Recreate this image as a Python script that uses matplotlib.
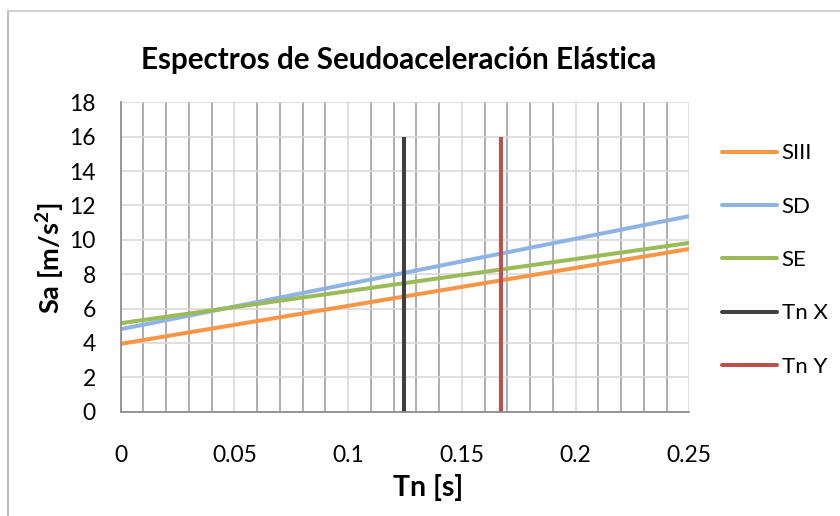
import matplotlib.pyplot as plt
from matplotlib.ticker import MultipleLocator
from matplotlib.lines import Line2D

plt.rcParams['font.family'] = ['Lato', 'DejaVu Sans']
plt.rcParams['mathtext.fontset'] = 'custom'
plt.rcParams['mathtext.rm'] = 'Lato'
plt.rcParams['mathtext.bf'] = 'Lato:bold'

# periodos (s) y pseudoaceleraciones (m/s2)
tn = [0.0, 0.25]
sa_siii = [3.95, 9.47]
sa_sd = [4.8, 11.38]
sa_se = [5.15, 9.82]

tn_x = 0.1245
tn_y = 0.1672
vline_sa = [0, 16]

labels = ["SIII", "SD", "SE", "Tn X", "Tn Y"]
colors = ["#F79646", "#8EB4E3", "#9BBB59", "#404040", "#C0504D"]

fig = plt.figure(figsize=(8.4, 5.16), dpi=100)
ax = fig.add_axes([0.1437, 0.2021, 0.6769, 0.5996])

ax.plot(tn, sa_siii, color=colors[0], lw=2.9, label=labels[0], solid_capstyle='butt')
ax.plot(tn, sa_sd, color=colors[1], lw=2.9, label=labels[1], solid_capstyle='butt')
ax.plot(tn, sa_se, color=colors[2], lw=2.9, label=labels[2], solid_capstyle='butt')
ax.plot([tn_x, tn_x], vline_sa, color=colors[3], lw=2.9, label=labels[3], solid_capstyle='butt', clip_on=False)
ax.plot([tn_y, tn_y], vline_sa, color=colors[4], lw=2.9, label=labels[4], solid_capstyle='butt', clip_on=False)

ax.set_xlim(0, 0.25)
ax.set_ylim(0, 18)
ax.xaxis.set_major_locator(MultipleLocator(0.05))
ax.xaxis.set_minor_locator(MultipleLocator(0.01))
ax.yaxis.set_major_locator(MultipleLocator(2))
ax.xaxis.set_major_formatter(plt.FuncFormatter(lambda v, p: f"{v:g}"))

ax.grid(which='major', color='#D9D9D9', lw=1.2)
ax.grid(which='minor', axis='x', color='#A0A0A0', lw=1.2)
ax.set_axisbelow(True)

for s in ['top', 'right']:
    ax.spines[s].set_visible(False)
for s in ['left', 'bottom']:
    ax.spines[s].set_color('#868686')
    ax.spines[s].set_linewidth(1.2)

ax.tick_params(which='both', length=0)
ax.tick_params(axis='y', labelsize=16.5, pad=18)
ax.tick_params(axis='x', labelsize=16.5, pad=24)

fig.text(0.475, 0.884, "Espectros de Seudoaceleración Elástica",
         fontsize=21.3, fontweight='bold', ha='center', va='center')
fig.text(0.51, 0.056, "Tn [s]", fontsize=20.5, fontweight='bold', ha='center', va='center')
fig.text(0.06, 0.50, r"Sa [m/s$^{\mathbf{2}}$]", fontsize=19.5, fontweight='bold',
         ha='center', va='center', rotation=90)

leg = fig.legend(loc='center left', bbox_to_anchor=(0.8595, 0.496), frameon=False,
                 fontsize=16, handlelength=2.47, handletextpad=0.22, labelspacing=1.5,
                 borderpad=0, borderaxespad=0)
for h in leg.get_lines():
    h.set_solid_capstyle('round')

# borde del grafico (solo arriba e izquierda visibles)
fig.add_artist(Line2D([8 / 840, 8 / 840], [0, 1 - 11 / 516], color='#B0B0B0', lw=1.2))
fig.add_artist(Line2D([8 / 840, 1], [1 - 11 / 516, 1 - 11 / 516], color='#C8C8C8', lw=1.2))

fig.savefig("out.png", dpi=100)
